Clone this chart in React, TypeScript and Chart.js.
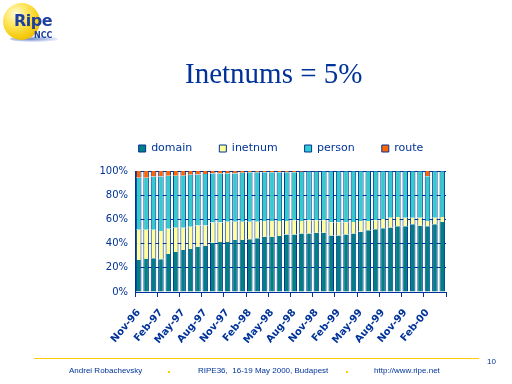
import React, { useEffect, useRef } from "react";
import { Chart, registerables } from "chart.js";

Chart.register(...registerables);

const NAVY = "#003399";

const months = [
  "Nov-96", "Dec-96", "Jan-97", "Feb-97", "Mar-97", "Apr-97", "May-97", "Jun-97",
  "Jul-97", "Aug-97", "Sep-97", "Oct-97", "Nov-97", "Dec-97", "Jan-98", "Feb-98",
  "Mar-98", "Apr-98", "May-98", "Jun-98", "Jul-98", "Aug-98", "Sep-98", "Oct-98",
  "Nov-98", "Dec-98", "Jan-99", "Feb-99", "Mar-99", "Apr-99", "May-99", "Jun-99",
  "Jul-99", "Aug-99", "Sep-99", "Oct-99", "Nov-99", "Dec-99", "Jan-00", "Feb-00",
  "Mar-00", "Apr-00",
];

const domain = [
  26.4, 27.2, 27.8, 27.0, 31.4, 33.0, 34.7, 35.5, 37.4, 38.2, 40.7, 41.3, 41.3, 43.0,
  43.0, 43.6, 44.4, 45.7, 45.7, 46.3, 47.5, 47.5, 48.3, 48.3, 48.9, 48.9, 46.7, 46.7,
  47.5, 48.3, 49.7, 51.0, 51.8, 52.6, 53.4, 54.3, 54.3, 55.9, 54.8, 54.3, 55.9, 57.8,
];

const inetnum = [
  25.1, 24.3, 23.7, 23.4, 20.9, 20.0, 18.3, 18.5, 17.6, 16.8, 16.8, 16.2, 16.7, 15.0,
  15.0, 14.4, 13.6, 13.0, 13.0, 12.4, 11.2, 11.7, 10.4, 10.9, 10.3, 10.3, 10.9, 10.9,
  10.1, 9.6, 9.0, 7.7, 7.4, 7.7, 8.0, 7.7, 7.1, 5.5, 6.6, 4.4, 5.5, 4.2,
];

const person = [
  43.0, 43.0, 44.0, 45.1, 43.7, 43.0, 43.0, 43.0, 42.2, 42.5, 40.5, 40.5, 40.0, 40.0,
  40.5, 41.0, 41.0, 40.3, 40.3, 40.3, 40.3, 39.8, 40.6, 40.3, 40.3, 40.5, 42.1, 42.1,
  42.2, 41.9, 41.1, 41.1, 40.6, 39.5, 38.4, 37.8, 38.4, 38.4, 38.4, 36.9, 38.4, 37.8,
];

const route = [
  5.5, 5.5, 4.5, 4.5, 4.0, 4.0, 4.0, 3.0, 2.8, 2.5, 2.0, 2.0, 2.0, 2.0,
  1.5, 1.0, 1.0, 1.0, 1.0, 1.0, 1.0, 1.0, 0.7, 0.5, 0.5, 0.3, 0.3, 0.3,
  0.2, 0.2, 0.2, 0.2, 0.2, 0.2, 0.2, 0.2, 0.2, 0.2, 0.2, 4.4, 0.2, 0.2,
];

const yTicks = [0, 20, 40, 60, 80, 100];

const seriesNames = ["domain", "inetnum", "person", "route"];
const seriesColors = ["#008080", "#ffff99", "#33cccc", "#ff6600"];

function RipeChart() {
  const ref = useRef<HTMLCanvasElement | null>(null);

  useEffect(() => {
    if (!ref.current) return;
    const values = [domain, inetnum, person, route];
    const chart = new Chart(ref.current, {
      type: "bar",
      data: {
        labels: months,
        datasets: seriesNames.map((name, i) => ({
          label: name,
          data: values[i],
          yAxisID: "y",
          backgroundColor: seriesColors[i],
          borderColor: NAVY,
          borderWidth: { left: 1, right: 1, top: 0, bottom: 0 },
          borderSkipped: false,
          barPercentage: 0.75,
          categoryPercentage: 1,
        })),
      },
      options: {
        animation: false,
        responsive: false,
        maintainAspectRatio: false,
        layout: { padding: { left: 99, right: 49, top: 116, bottom: 0 } },
        plugins: {
          legend: {
            position: "top",
            labels: {
              font: { family: "DejaVu Sans", size: 11 },
              color: NAVY,
              boxWidth: 7,
              boxHeight: 7,
              padding: 27,
              generateLabels: (c: any) =>
                (Chart.defaults.plugins.legend.labels as any)
                  .generateLabels(c)
                  .map((l: any) => ({ ...l, lineWidth: 1, strokeStyle: NAVY })),
            },
          },
          title: {
            display: true,
            text: "",
            weight: 500,
            padding: { top: 0, bottom: 6 },
            font: { size: 1, lineHeight: 1 },
          } as any,
          tooltip: { enabled: false },
        },
        scales: {
          x: {
            stacked: true,
            grid: {
              drawOnChartArea: false,
              drawTicks: true,
              tickLength: 5,
              color: (ctx: any) =>
                ctx.index === undefined || ctx.index % 3 === 0 ? NAVY : "rgba(0,0,0,0)",
            },
            border: { display: true, color: NAVY, width: 1 },
            ticks: {
              autoSkip: false,
              minRotation: 50,
              maxRotation: 50,
              padding: 10,
              color: NAVY,
              font: { family: "DejaVu Sans", size: 10, weight: "bold" },
              callback: (_v: any, i: number) => (i % 3 === 0 ? months[i] : ""),
            },
            afterFit: (s: any) => {
              s.height = 92;
            },
          },
          y: {
            stacked: true,
            position: "left",
            min: 0,
            max: 100,
            afterBuildTicks: (s: any) => {
              s.ticks = yTicks.map((v) => ({ value: v }));
            },
            ticks: {
              padding: 7,
              color: NAVY,
              font: { family: "DejaVu Sans", size: 10 },
              callback: (v: any) => v + "%",
            },
            grid: { color: NAVY, drawTicks: false, lineWidth: 1 },
            border: { display: true, color: NAVY, width: 1 },
            afterFit: (s: any) => {
              s.width = 36;
            },
          },
          spacer: {
            type: "linear",
            axis: "y",
            position: "right",
            display: true,
            grid: { display: false },
            border: { display: false },
            ticks: { display: false },
            afterFit: (s: any) => {
              s.width = 17;
            },
          },
        },
      } as any,
    });
    return () => chart.destroy();
  }, []);

  return (
    <canvas
      ref={ref}
      width={512}
      height={384}
      style={{ position: "absolute", left: 0, top: 0, width: 512, height: 384 }}
    />
  );
}

function Logo() {
  return (
    <div style={{ position: "absolute", left: 0, top: 0, width: 70, height: 50 }}>
      <div
        style={{
          position: "absolute",
          left: 10,
          top: 36,
          width: 48,
          height: 6,
          borderRadius: "50%",
          background:
            "radial-gradient(ellipse at 40% 50%, #6b86c8 0%, rgba(160,180,230,0.4) 60%, rgba(255,255,255,0) 100%)",
        }}
      />
      <div
        style={{
          position: "absolute",
          left: 3,
          top: 3,
          width: 37,
          height: 37,
          borderRadius: "50%",
          background:
            "radial-gradient(circle at 35% 30%, #fffbe0 0%, #ffe866 30%, #f6cc10 65%, #dca400 100%)",
        }}
      />
      <div
        style={{
          position: "absolute",
          left: 14,
          top: 11,
          fontFamily: "'DejaVu Sans', sans-serif",
          fontWeight: "bold",
          fontSize: 16,
          lineHeight: "20px",
          color: "#1d3f9e",
          letterSpacing: -0.5,
        }}
      >
        Ripe
      </div>
      <div
        style={{
          position: "absolute",
          left: 34,
          top: 31,
          fontFamily: "'DejaVu Sans', sans-serif",
          fontWeight: "bold",
          fontSize: 8,
          lineHeight: "10px",
          color: "#1d3f9e",
        }}
      >
        NCC
      </div>
    </div>
  );
}

const footText: React.CSSProperties = {
  position: "absolute",
  top: 367,
  fontFamily: "'Liberation Sans', Arial, sans-serif",
  fontSize: 8,
  lineHeight: "8px",
  color: NAVY,
  whiteSpace: "pre",
};

export default function App() {
  return (
    <div
      style={{
        position: "absolute",
        left: 0,
        top: 0,
        width: 512,
        height: 384,
        background: "#ffffff",
        overflow: "hidden",
      }}
    >
      <RipeChart />
      <Logo />
      <div
        style={{
          position: "absolute",
          left: 185,
          top: 59,
          fontFamily: "'Liberation Serif', 'Times New Roman', serif",
          fontSize: 29,
          lineHeight: "29px",
          color: NAVY,
          whiteSpace: "pre",
        }}
      >
        Inetnums = 5%
      </div>
      <div style={{ position: "absolute", left: 34, top: 358, width: 445, height: 1, background: "#ffcc00" }} />
      <div style={{ ...footText, left: 487, top: 358 }}>10</div>
      <div style={{ ...footText, left: 69 }}>Andrei Robachevsky</div>
      <div style={{ position: "absolute", left: 168, top: 371, width: 2, height: 2, background: "#ffcc00" }} />
      <div style={{ ...footText, left: 198 }}>RIPE36,  16-19 May 2000, Budapest</div>
      <div style={{ position: "absolute", left: 346, top: 371, width: 2, height: 2, background: "#ffcc00" }} />
      <div style={{ ...footText, left: 374 }}>http://www.ripe.net</div>
    </div>
  );
}
